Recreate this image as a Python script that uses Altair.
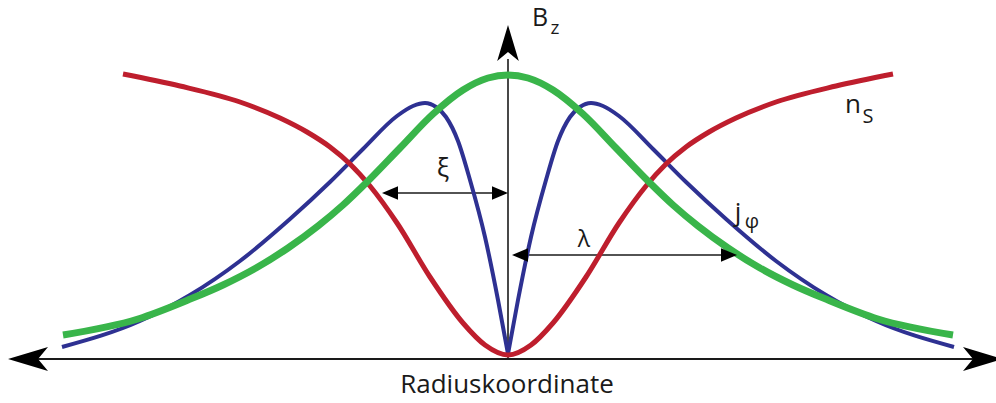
import altair as alt
import pandas as pd

# Radius coordinate (vortex core at r = 0) and height above the baseline, arbitrary units
R_DOMAIN = [-508, 488]
H_DOMAIN = [-44, 359]

# Cooper pair density n_S
ns_r = [-385, -328, -268, -228, -201, -178, -158, -138, -111, -78, -45, -23, 0,
        23, 45, 78, 111, 138, 158, 178, 201, 228, 268, 328, 385]
ns_h = [285, 273, 257, 241, 227, 212, 195, 173, 136, 82, 36, 14, 4,
        14, 36, 82, 136, 173, 195, 212, 227, 241, 257, 273, 285]

# Supercurrent j_phi, left and right branch meeting in the core
j_left_r = [-446, -368, -318, -268, -218, -178, -145, -111, -95, -83, -72, -62, -50, -38, -23, -10, 0]
j_left_h = [12, 38, 64, 98, 140, 177, 210, 243, 253, 256, 252, 242, 218, 179, 122, 59, 5]
j_right_r = [0, 10, 23, 38, 50, 62, 72, 83, 95, 111, 145, 178, 218, 268, 318, 368, 446]
j_right_h = [5, 59, 122, 179, 218, 242, 252, 256, 253, 243, 210, 177, 140, 98, 64, 38, 12]

# Magnetic field B_z
bz_r = [-445, -370, -320, -285, -252, -220, -190, -165, -142, -108, -75, -45, -20, 0,
        20, 45, 75, 108, 142, 165, 190, 220, 252, 285, 320, 370, 445]
bz_h = [24, 40, 59, 74, 91, 111, 133, 154, 176, 211, 245, 269, 281, 284,
        281, 269, 245, 211, 176, 154, 133, 111, 91, 74, 59, 40, 24]

# Axis and length-scale arrows: start/end of each shaft
shaft_r1 = [-490, 0, -118, 6]
shaft_r2 = [480, 0, -2, 228]
shaft_h1 = [0, 0, 166, 104]
shaft_h2 = [0, 300, 166, 104]
shaft_w = [2.2, 1.6, 1.5, 1.5]

# Arrow heads
BIG_LEFT = "M -1 0 L 1 -0.6 L 0.5 0 L 1 0.6 Z"
BIG_RIGHT = "M 1 0 L -1 -0.6 L -0.5 0 L -1 0.6 Z"
BIG_UP = "M 0 -1 L -0.6 1 L 0 0.5 L 0.6 1 Z"
SMALL_LEFT = "M -1 0 L 1 -0.85 L 1 0.85 Z"
SMALL_RIGHT = "M 1 0 L -1 -0.85 L -1 0.85 Z"
head_r = [-480, 475, 0, -118, -8, 12, 221]
head_h = [0, 0, 316, 166, 166, 104, 104]
head_shape = [BIG_LEFT, BIG_RIGHT, BIG_UP, SMALL_LEFT, SMALL_RIGHT, SMALL_LEFT, SMALL_RIGHT]
head_size = [1600, 1600, 1296, 256, 256, 256, 256]

# Labels
label_text = ["B", "z", "n", "S", "j", "φ", "ξ", "λ", "Radiuskoordinate"]
label_r = [32, 47, 345, 360, 230, 244, -65, 76, -1]
label_h = [333, 325, 246, 236, 138, 131, 182, 112, -34]
label_size = [25, 19, 26, 20, 26, 20, 26, 23, 26]

RED = "#BE1E2D"
BLUE = "#2E3192"
GREEN = "#39B54A"
INK = "#1a1a1a"
FONT = "Open Sans"

x_scale = alt.Scale(domain=R_DOMAIN, nice=False, zero=False)
y_scale = alt.Scale(domain=H_DOMAIN, nice=False, zero=False)


def xy():
    return dict(
        x=alt.X("r:Q", scale=x_scale, axis=None),
        y=alt.Y("h:Q", scale=y_scale, axis=None),
    )


ns_df = pd.DataFrame({"r": ns_r, "h": ns_h})
j_df = pd.concat([
    pd.DataFrame({"r": j_left_r, "h": j_left_h, "side": "left"}),
    pd.DataFrame({"r": j_right_r, "h": j_right_h, "side": "right"}),
])
bz_df = pd.DataFrame({"r": bz_r, "h": bz_h})
shaft_df = pd.DataFrame({"r": shaft_r1, "r2": shaft_r2, "h": shaft_h1, "h2": shaft_h2, "w": shaft_w})
head_df = pd.DataFrame({"r": head_r, "h": head_h, "shape": head_shape, "size": head_size})
label_df = pd.DataFrame({"r": label_r, "h": label_h, "text": label_text, "size": label_size})

j_line = alt.Chart(j_df).mark_line(
    color=BLUE, strokeWidth=4, interpolate="monotone", strokeCap="butt"
).encode(**xy(), detail="side:N", order="r:Q")

ns_line = alt.Chart(ns_df).mark_line(
    color=RED, strokeWidth=5, interpolate="monotone", strokeCap="butt"
).encode(**xy(), order="r:Q")

bz_line = alt.Chart(bz_df).mark_line(
    color=GREEN, strokeWidth=7, interpolate="monotone", strokeCap="butt"
).encode(**xy(), order="r:Q")

shafts = alt.Chart(shaft_df).mark_rule(color=INK).encode(
    **xy(),
    x2="r2:Q",
    y2="h2:Q",
    strokeWidth=alt.StrokeWidth("w:Q", scale=None),
)

heads = alt.Chart(head_df).mark_point(
    filled=True, color="black", opacity=1, strokeWidth=0
).encode(
    **xy(),
    shape=alt.Shape("shape:N", scale=None),
    size=alt.Size("size:Q", scale=None),
)

labels = alt.Chart(label_df).mark_text(
    align="center", baseline="alphabetic", font=FONT, color=INK
).encode(
    **xy(),
    text="text:N",
    size=alt.Size("size:Q", scale=None),
)

chart = alt.layer(
    shafts, j_line, ns_line, bz_line, heads, labels
).properties(
    width=996, height=403, padding=0, autosize="none", background="white"
).configure_view(strokeWidth=0)

chart.save("out.html", embed_options={"renderer": "svg", "actions": False})
